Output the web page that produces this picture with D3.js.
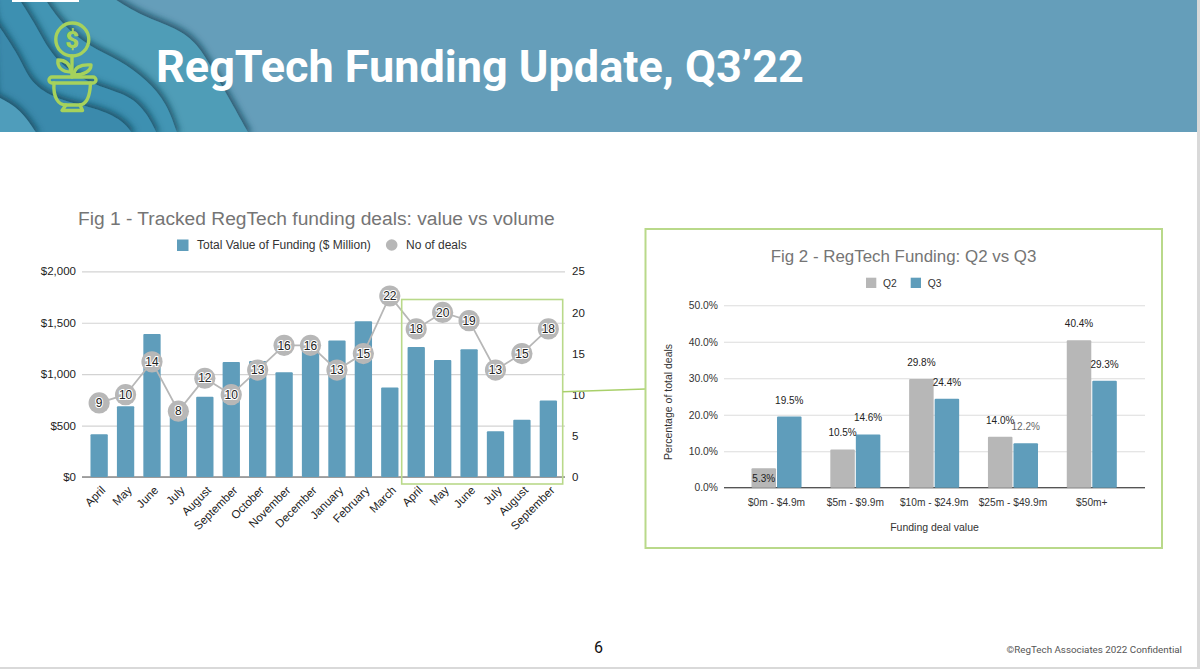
<!DOCTYPE html>
<html>
<head>
<meta charset="utf-8">
<title>RegTech Funding Update</title>
<style>
    html, body { margin: 0; padding: 0; background: #fff; overflow: hidden; }
    svg { display: block; }
    text { font-family: "Liberation Sans", Arial, sans-serif; }
</style>
</head>
<body>
<svg width="1200" height="669"></svg>
<script src="https://d3js.org/d3.v7.min.js"></script>
<script>
// Fig 1 data
var months = ["April", "May", "June", "July", "August", "September", "October", "November", "December",
    "January", "February", "March", "April", "May", "June", "July", "August", "September"];
var fundingValue = [415, 687, 1390, 600, 781, 1118, 1128, 1018, 1290, 1326, 1514, 869, 1264, 1138, 1241, 444, 557, 745];
var dealCount = [9, 10, 14, 8, 12, 10, 13, 16, 16, 13, 15, 22, 18, 20, 19, 13, 15, 18];
var fundingTicks = [0, 500, 1000, 1500, 2000];
var dealTicks = [0, 5, 10, 15, 20, 25];

// Fig 2 data
var dealBands = ["$0m - $4.9m", "$5m - $9.9m", "$10m - $24.9m", "$25m - $49.9m", "$50m+"];
var quarters = ["Q2", "Q3"];
var q2Share = [5.3, 10.5, 29.8, 14.0, 40.4];
var q3Share = [19.5, 14.6, 24.4, 12.2, 29.3];
var shareTicks = [0, 10, 20, 30, 40, 50];

var blue = "#5f9dbb", grey = "#b7b7b7", green = "#a6d25c", frame = "#b9d98a";

var svg = d3.select("svg");

// ---------- header banner ----------
var defs = svg.append("defs");
defs.append("clipPath").attr("id", "headerClip")
    .append("rect").attr("width", 1197).attr("height", 132);
var shadow = defs.append("filter").attr("id", "paper")
    .attr("x", "-20%").attr("y", "-20%").attr("width", "140%").attr("height", "140%");
shadow.append("feDropShadow").attr("dx", 2).attr("dy", -3).attr("stdDeviation", 3)
    .attr("flood-color", "#123f55").attr("flood-opacity", 0.75);

svg.append("rect").attr("width", 1197).attr("height", 132).attr("fill", "#659eba");

var waves = svg.append("g").attr("clip-path", "url(#headerClip)");
var waveLine = d3.line().curve(d3.curveBasis);
// paper cut layers, largest first, each closed through the bottom left corner
var layers = [
    { fill: "#4f9db7", edge: [[110, -4], [143, 17], [177, 28], [197, 43], [213, 70], [230, 100], [250, 136]] },
    { fill: "#4295b4", edge: [[43, -4], [62, 25], [90, 47], [120, 60], [147, 80], [167, 103], [178, 136]] },
    { fill: "#3d90b1", edge: [[17, -4], [36, 25], [55, 63], [97, 87], [130, 95], [147, 113], [158, 136]] },
    { fill: "#3a8aac", edge: [[-4, 22], [20, 57], [30, 83], [57, 100], [97, 108], [123, 120], [134, 136]] },
    { fill: "#4f9dbb", edge: [[-4, 96], [17, 107], [30, 123], [38, 136]] }
];
layers.forEach(function (layer) {
    var d = waveLine(layer.edge) + "L-10,140L-10,-10Z";
    waves.append("path").attr("d", d).attr("fill", layer.fill).attr("filter", "url(#paper)");
});
svg.append("rect").attr("x", 12).attr("y", 0).attr("width", 67).attr("height", 2).attr("fill", "#fff");

// plant pot icon
var icon = svg.append("g").attr("fill", "none").attr("stroke", green).attr("stroke-width", 3.4)
    .attr("stroke-linejoin", "round").attr("stroke-linecap", "round");
icon.append("circle").attr("cx", 72.3).attr("cy", 39.5).attr("r", 16.5);
icon.append("text").attr("x", 72.3).attr("y", 47.5).attr("text-anchor", "middle")
    .attr("stroke", "none").attr("fill", green).attr("font-size", 24).attr("font-weight", 900)
    .style("font-family", "Roboto").text("$");
icon.append("path").attr("d", "M72,56V77");
icon.append("path").attr("d", "M71,72C70,63 65,60 58,60C57,67 62,72 71,72Z");
icon.append("path").attr("d", "M74,75C74,68 80,64 91,65C91,71 84,75 74,75Z");
icon.append("rect").attr("x", 49).attr("y", 77).attr("width", 47).attr("height", 6).attr("rx", 3);
icon.append("path").attr("d", "M54,83C53,97 58,105 66,105H79C87,105 90,96 90.5,83");
icon.append("path").attr("d", "M66,105L62,110.5H82.5L80,105");

svg.append("text").attr("x", 156).attr("y", 82)
    .style("font-family", "Roboto").attr("font-weight", 700).attr("font-size", 45)
    .attr("fill", "#fff").text("RegTech Funding Update, Q3\u201922");

// page edges
svg.append("rect").attr("x", 1197).attr("width", 3).attr("height", 669).attr("fill", "#d9d9d9");
svg.append("rect").attr("y", 667).attr("width", 1200).attr("height", 2).attr("fill", "#d9d9d9");

// ---------- Fig 1 ----------
var fig1 = svg.append("g");
var x1 = d3.scaleBand().domain(d3.range(months.length)).range([86, 561.5]).paddingInner(0.345).paddingOuter(0.17);
var yValue = d3.scaleLinear().domain([0, 2000]).range([477, 271.3]);
var yDeals = d3.scaleLinear().domain([0, 25]).range([477, 271.3]);

fig1.append("text").attr("x", 78).attr("y", 224.5).attr("font-size", 19.2).attr("fill", "#757575")
    .text("Fig 1 - Tracked RegTech funding deals: value vs volume");

fig1.append("rect").attr("x", 177).attr("y", 239.5).attr("width", 11.5).attr("height", 11.5).attr("fill", blue);
fig1.append("text").attr("x", 197).attr("y", 249.3).attr("font-size", 12).attr("fill", "#333")
    .text("Total Value of Funding ($ Million)");
fig1.append("circle").attr("cx", 391.7).attr("cy", 245).attr("r", 5.8).attr("fill", grey);
fig1.append("text").attr("x", 406).attr("y", 249.3).attr("font-size", 12).attr("fill", "#333")
    .text("No of deals");

// left axis carries the grid lines
var leftAxis = fig1.append("g").attr("transform", "translate(82,0)")
    .call(d3.axisLeft(yValue).tickValues(fundingTicks).tickSize(-483).tickPadding(6)
        .tickFormat(function (d) { return "$" + d3.format(",")(d); }));
leftAxis.select(".domain").remove();
leftAxis.selectAll("line").attr("stroke", "#d3d3d3").attr("stroke-width", 1.2);
leftAxis.selectAll("text").attr("font-size", 11.5).attr("fill", "#222");
leftAxis.selectAll("text").style("font-family", "Liberation Sans");

var rightAxis = fig1.append("g").attr("transform", "translate(565,0)")
    .call(d3.axisRight(yDeals).tickValues(dealTicks).tickSize(0).tickPadding(7));
rightAxis.select(".domain").remove();
rightAxis.selectAll("text").attr("font-size", 11.5).attr("fill", "#222").style("font-family", "Liberation Sans");

fig1.append("line").attr("x1", 82).attr("x2", 565).attr("y1", yValue(0)).attr("y2", yValue(0))
    .attr("stroke", "#8a8a8a").attr("stroke-width", 1.6);

fig1.selectAll(".bar").data(fundingValue).enter().append("rect")
    .attr("class", "bar")
    .attr("x", function (d, i) { return x1(i); })
    .attr("y", function (d) { return yValue(d); })
    .attr("width", x1.bandwidth())
    .attr("height", function (d) { return yValue(0) - yValue(d); })
    .attr("rx", 1)
    .attr("fill", blue);

var dealLine = d3.line()
    .x(function (d, i) { return x1(i) + x1.bandwidth() / 2; })
    .y(function (d) { return yDeals(d); });
fig1.append("path").attr("d", dealLine(dealCount)).attr("fill", "none")
    .attr("stroke", grey).attr("stroke-width", 1.8);

fig1.selectAll(".deal").data(dealCount).enter().append("circle")
    .attr("class", "deal")
    .attr("cx", function (d, i) { return x1(i) + x1.bandwidth() / 2; })
    .attr("cy", function (d) { return yDeals(d); })
    .attr("r", 10.6)
    .attr("fill", grey);

fig1.selectAll(".dealLabel").data(dealCount).enter().append("text")
    .attr("class", "dealLabel")
    .attr("x", function (d, i) { return x1(i) + x1.bandwidth() / 2; })
    .attr("y", function (d) { return yDeals(d) + 4.2; })
    .attr("text-anchor", "middle")
    .attr("font-size", 12).attr("fill", "#222")
    .attr("stroke", "#fff").attr("stroke-width", 2.2).attr("paint-order", "stroke")
    .text(function (d) { return d; });

fig1.selectAll(".month").data(months).enter().append("text")
    .attr("class", "month")
    .attr("text-anchor", "end")
    .attr("font-size", 11.5).attr("fill", "#222")
    .attr("transform", function (d, i) {
        return "translate(" + (x1(i) + x1.bandwidth() / 2 + 7) + ",491) rotate(-45)";
    })
    .text(function (d) { return d; });

// green call out box and connector to Fig 2
fig1.append("rect").attr("x", 401.7).attr("y", 299.5).attr("width", 161).attr("height", 184.5)
    .attr("fill", "none").attr("stroke", frame).attr("stroke-width", 1.6);
svg.append("line").attr("x1", 562.7).attr("y1", 391.8).attr("x2", 645.5).attr("y2", 389)
    .attr("stroke", "#a9d06a").attr("stroke-width", 1.6);

// ---------- Fig 2 ----------
var fig2 = svg.append("g");
fig2.append("rect").attr("x", 645.5).attr("y", 229).attr("width", 516.5).attr("height", 319)
    .attr("fill", "#fff").attr("stroke", frame).attr("stroke-width", 2);

fig2.append("text").attr("x", 903.5).attr("y", 261.5).attr("text-anchor", "middle")
    .attr("font-size", 16.9).attr("fill", "#757575").text("Fig 2 - RegTech Funding: Q2 vs Q3");

var colour = d3.scaleOrdinal().domain(quarters).range([grey, blue]);
var legendX = d3.scaleOrdinal().domain(quarters).range([866, 910.7]);
quarters.forEach(function (q) {
    fig2.append("rect").attr("x", legendX(q)).attr("y", 277.7).attr("width", 10.3).attr("height", 10.3)
        .attr("fill", colour(q));
    fig2.append("text").attr("x", legendX(q) + 17).attr("y", 286.7).attr("font-size", 10.3).attr("fill", "#333").text(q);
});

var x2 = d3.scaleBand().domain(dealBands).range([737.3, 1131]).paddingInner(0.365).paddingOuter(0.18);
var xq = d3.scaleBand().domain(quarters).range([0, x2.bandwidth()]).paddingInner(0.04);
var yShare = d3.scaleLinear().domain([0, 50]).range([487.7, 305.3]);

var shareAxis = fig2.append("g").attr("transform", "translate(724,0)")
    .call(d3.axisLeft(yShare).tickValues(shareTicks).tickSize(-421).tickPadding(6)
        .tickFormat(function (d) { return d3.format(".1f")(d) + "%"; }));
shareAxis.select(".domain").remove();
shareAxis.selectAll("line").attr("stroke", "#dcdcdc").attr("stroke-width", 1.1);
shareAxis.selectAll("text").attr("font-size", 10.3).attr("fill", "#333").style("font-family", "Liberation Sans");

fig2.append("line").attr("x1", 724).attr("x2", 1145).attr("y1", yShare(0)).attr("y2", yShare(0))
    .attr("stroke", "#555").attr("stroke-width", 1.2);

var bandLabels = fig2.append("g").attr("transform", "translate(0," + yShare(0) + ")")
    .call(d3.axisBottom(x2).tickSize(0).tickPadding(11));
bandLabels.select(".domain").remove();
bandLabels.selectAll("text").attr("font-size", 10.2).attr("fill", "#333").style("font-family", "Liberation Sans");

var shareRows = [];
dealBands.forEach(function (band, i) {
    shareRows.push({ band: band, q: "Q2", v: q2Share[i] });
    shareRows.push({ band: band, q: "Q3", v: q3Share[i] });
});

fig2.selectAll(".shareBar").data(shareRows).enter().append("rect")
    .attr("class", "shareBar")
    .attr("x", function (d) { return x2(d.band) + xq(d.q); })
    .attr("y", function (d) { return yShare(d.v); })
    .attr("width", xq.bandwidth())
    .attr("height", function (d) { return yShare(0) - yShare(d.v); })
    .attr("rx", 1)
    .attr("fill", function (d) { return colour(d.q); });

fig2.selectAll(".shareLabel").data(shareRows).enter().append("text")
    .attr("class", "shareLabel")
    .attr("x", function (d) { return x2(d.band) + xq(d.q) + xq.bandwidth() / 2; })
    // the smallest bar has its label inside the bar
    .attr("y", function (d) { return yShare(d.v) + (d.v < 6 ? 13.5 : -13); })
    .attr("text-anchor", "middle")
    .attr("font-size", 10)
    .attr("fill", function (d) { return d.v === 12.2 ? "#666" : "#222"; })
    .text(function (d) { return d3.format(".1f")(d.v) + "%"; });

fig2.append("text").attr("x", 934.5).attr("y", 530.5).attr("text-anchor", "middle")
    .attr("font-size", 10.5).attr("fill", "#333").text("Funding deal value");
fig2.append("text").attr("transform", "translate(671.5,402) rotate(-90)").attr("text-anchor", "middle")
    .attr("font-size", 10.5).attr("fill", "#333").text("Percentage of total deals");

// ---------- footer ----------
svg.append("text").attr("x", 598.5).attr("y", 653).attr("text-anchor", "middle")
    .style("font-family", "Roboto").attr("font-size", 16).attr("fill", "#111").text("6");
svg.append("text").attr("x", 1182).attr("y", 653).attr("text-anchor", "end")
    .style("font-family", "Roboto").attr("font-size", 9.8).attr("fill", "#555")
    .text("\u00A9RegTech Associates 2022 Confidential");
</script>
</body>
</html>
